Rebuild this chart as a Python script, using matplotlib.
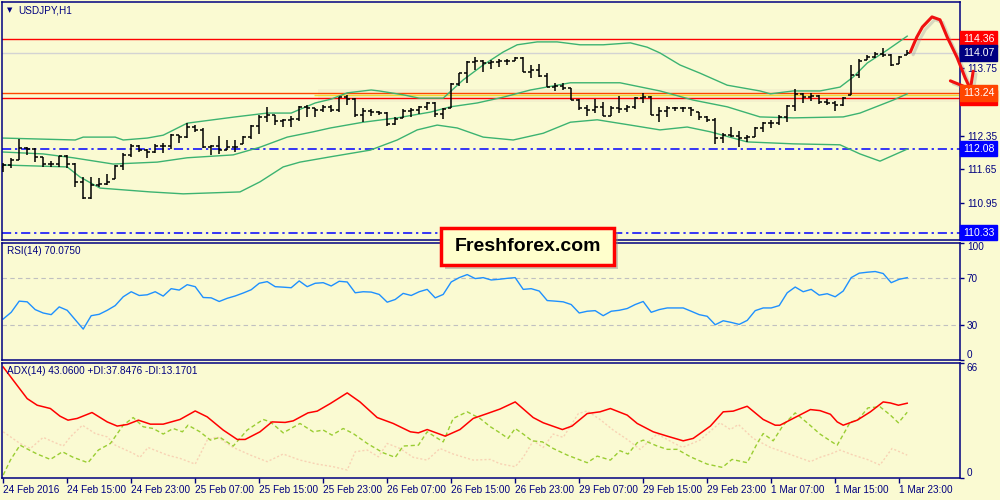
# -*- coding: utf-8 -*-
'''
USDJPY H1 - bars, Bollinger bands, RSI(14), ADX(14) in the MT4 look
'''
import numpy as np
import matplotlib
matplotlib.use('Agg')
import matplotlib.pyplot as plt
import matplotlib.patheffects as path_effects
from matplotlib.patches import Rectangle

plt.rcParams['font.family'] = ['Liberation Sans', 'DejaVu Sans']

# ---------------- data ----------------
opens = [111.70, 111.74, 111.84, 112.09, 112.07, 111.91, 111.76, 111.76, 111.93, 111.76,
         111.39, 111.05, 111.32, 111.35, 111.45, 111.72, 111.95, 112.14, 112.05, 112.01,
         112.14, 112.14, 112.36, 112.32, 112.53, 112.47, 112.11, 112.14, 112.05, 112.11,
         112.18, 112.32, 112.55, 112.74, 112.78, 112.66, 112.68, 112.70, 112.95, 112.93,
         112.88, 112.95, 112.88, 113.15, 113.11, 112.78, 112.86, 112.84, 112.82, 112.59,
         112.72, 112.86, 112.88, 112.95, 113.03, 112.80, 112.93, 113.42, 113.65, 113.88,
         113.90, 113.86, 113.88, 113.90, 113.90, 113.97, 113.67, 113.72, 113.59, 113.36,
         113.38, 113.34, 113.09, 112.93, 112.88, 112.95, 112.76, 112.93, 112.90, 112.95,
         113.13, 113.15, 112.78, 112.86, 112.93, 112.93, 112.93, 112.84, 112.74, 112.68,
         112.30, 112.36, 112.34, 112.30, 112.32, 112.51, 112.61, 112.61, 112.74, 112.97,
         113.22, 113.15, 113.17, 113.05, 113.03, 112.99, 113.20, 113.61, 113.92, 113.99,
         114.05, 114.03, 113.84, 114.03]
highs = [111.78, 111.89, 112.28, 112.11, 112.09, 111.91, 111.82, 111.93, 111.95, 111.78,
         111.49, 111.49, 111.47, 111.55, 111.74, 111.99, 112.18, 112.16, 112.07, 112.18,
         112.20, 112.39, 112.36, 112.61, 112.57, 112.51, 112.16, 112.34, 112.26, 112.26,
         112.34, 112.57, 112.78, 112.95, 112.78, 112.70, 112.76, 112.97, 112.99, 112.93,
         112.99, 112.99, 113.15, 113.20, 113.13, 112.93, 112.90, 112.86, 112.84, 112.74,
         112.90, 112.93, 112.97, 113.05, 113.05, 112.93, 113.45, 113.65, 113.90, 113.99,
         113.92, 113.92, 113.94, 113.94, 113.99, 113.99, 113.82, 113.84, 113.65, 113.45,
         113.45, 113.34, 113.11, 112.99, 113.11, 113.05, 112.97, 113.17, 112.99, 113.15,
         113.24, 113.17, 112.95, 112.97, 112.95, 112.95, 112.95, 112.84, 112.76, 112.72,
         112.41, 112.53, 112.45, 112.36, 112.53, 112.63, 112.68, 112.78, 112.99, 113.32,
         113.24, 113.24, 113.20, 113.11, 113.07, 113.15, 113.82, 113.94, 114.03, 114.09,
         114.17, 114.05, 114.01, 114.13]
lows = [111.59, 111.68, 111.84, 111.95, 111.80, 111.70, 111.70, 111.70, 111.68, 111.28,
        111.03, 111.03, 111.28, 111.33, 111.45, 111.64, 111.91, 112.01, 111.89, 111.99,
        111.99, 112.07, 112.20, 112.30, 112.43, 112.09, 111.95, 111.97, 112.05, 112.01,
        112.18, 112.28, 112.39, 112.63, 112.57, 112.53, 112.53, 112.66, 112.74, 112.74,
        112.84, 112.84, 112.84, 112.99, 112.74, 112.63, 112.76, 112.78, 112.55, 112.57,
        112.72, 112.74, 112.80, 112.88, 112.74, 112.70, 112.93, 113.38, 113.45, 113.72,
        113.67, 113.74, 113.78, 113.82, 113.90, 113.67, 113.55, 113.57, 113.36, 113.28,
        113.30, 113.09, 112.88, 112.76, 112.82, 112.76, 112.76, 112.82, 112.84, 112.90,
        113.03, 112.78, 112.63, 112.74, 112.86, 112.84, 112.76, 112.68, 112.63, 112.18,
        112.20, 112.32, 112.11, 112.22, 112.32, 112.43, 112.51, 112.57, 112.63, 112.86,
        113.03, 113.07, 113.01, 112.99, 112.86, 112.97, 113.20, 113.55, 113.92, 113.97,
        113.99, 113.80, 113.84, 114.03]
closes = [111.74, 111.84, 112.09, 112.07, 111.91, 111.76, 111.76, 111.93, 111.76, 111.39,
          111.05, 111.32, 111.35, 111.39, 111.72, 111.95, 112.14, 112.05, 112.01, 112.14,
          112.14, 112.36, 112.32, 112.53, 112.47, 112.11, 112.14, 112.05, 112.11, 112.11,
          112.32, 112.55, 112.74, 112.78, 112.66, 112.68, 112.70, 112.95, 112.93, 112.88,
          112.95, 112.88, 113.15, 113.11, 112.78, 112.86, 112.84, 112.82, 112.59, 112.70,
          112.86, 112.88, 112.95, 113.03, 112.80, 112.90, 113.42, 113.65, 113.88, 113.90,
          113.86, 113.88, 113.90, 113.90, 113.97, 113.67, 113.72, 113.59, 113.36, 113.38,
          113.34, 113.09, 112.93, 112.88, 112.95, 112.76, 112.93, 112.90, 112.95, 113.13,
          113.15, 112.78, 112.86, 112.93, 112.93, 112.93, 112.88, 112.74, 112.68, 112.30,
          112.36, 112.34, 112.30, 112.32, 112.51, 112.61, 112.61, 112.74, 112.97, 113.22,
          113.15, 113.17, 113.05, 113.03, 112.99, 113.13, 113.61, 113.90, 113.99, 114.05,
          114.03, 113.82, 113.99, 114.07]

# Bollinger bands (bar position, price)
bb_up_pos = [0, 9, 10, 14, 15, 18, 20, 23, 29, 33, 36, 39, 41, 43, 46, 47, 50, 52, 55, 57.5,
             60, 62.5, 64.25, 66.75, 69.25, 72.1, 75, 78.4, 80.5, 82.1, 84.6, 87.1, 90.5,
             94.6, 95.9, 98.75, 102.1, 104.6, 106.25, 108, 110.5, 113]
bb_up_val = [112.30, 112.26, 112.32, 112.32, 112.26, 112.30, 112.36, 112.61, 112.74, 112.82,
             112.82, 113.03, 113.11, 113.24, 113.30, 113.28, 113.20, 113.13, 113.13, 113.51,
             113.82, 114.09, 114.24, 114.30, 114.30, 114.24, 114.24, 114.28, 114.19, 114.07,
             113.82, 113.65, 113.40, 113.28, 113.22, 113.28, 113.28, 113.36, 113.57, 113.86,
             114.13, 114.42]
bb_mid_pos = [0, 5, 8.75, 13.75, 19.25, 23, 28.75, 32.1, 35.5, 38.75, 40.9, 45, 49.25, 53.4,
              55.9, 59.25, 62.5, 65.9, 69.25, 70.9, 77.1, 82.1, 86.25, 90.5, 94.6, 98.75,
              105, 107.1, 111.25, 113]
bb_mid_val = [112.01, 111.97, 111.89, 111.76, 111.80, 111.89, 111.95, 112.11, 112.32, 112.43,
              112.51, 112.63, 112.72, 112.84, 112.95, 113.03, 113.15, 113.30, 113.40, 113.45,
              113.45, 113.28, 113.09, 112.95, 112.74, 112.72, 112.74, 112.82, 113.09, 113.22]
bb_low_pos = [0, 8, 9.6, 12.1, 18.4, 22.5, 29.6, 32.1, 35, 37.1, 40.9, 45.9, 49.25, 51.75,
              54.25, 56.75, 60, 63.75, 67.5, 70.9, 74.25, 78.4, 82.1, 85.5, 88.4, 93, 98.75,
              104.6, 107.1, 109.6, 113]
bb_low_val = [111.74, 111.70, 111.49, 111.26, 111.18, 111.14, 111.18, 111.39, 111.70, 111.80,
              111.91, 112.05, 112.26, 112.47, 112.57, 112.51, 112.32, 112.26, 112.40, 112.63,
              112.68, 112.57, 112.47, 112.53, 112.43, 112.22, 112.18, 112.16, 111.97, 111.82,
              112.07]

# RSI(14), one value per bar
rsi = [34.9, 40.6, 50.1, 49.5, 42.9, 40.0, 38.6, 45.2, 42.3, 34.3,
       26.3, 37.7, 38.9, 42.3, 46.3, 53.8, 58.1, 54.9, 55.5, 58.1,
       54.4, 60.7, 59.5, 64.1, 62.4, 53.2, 52.9, 49.8, 52.5, 54.5,
       57.0, 59.8, 65.3, 66.7, 62.4, 62.0, 61.5, 67.3, 62.4, 65.3,
       65.8, 63.0, 67.0, 66.4, 57.2, 58.1, 57.8, 55.8, 49.2, 51.5,
       56.7, 54.9, 58.1, 60.1, 52.9, 55.8, 66.4, 70.1, 72.7, 69.3,
       70.1, 68.1, 68.7, 69.5, 70.1, 60.1, 60.7, 58.7, 50.6, 50.1,
       49.5, 47.2, 40.0, 41.5, 42.0, 37.7, 41.5, 42.3, 43.8, 47.2,
       49.8, 40.6, 42.9, 44.3, 44.3, 44.3, 41.5, 38.6, 37.2, 30.0,
       33.4, 32.0, 30.3, 33.7, 42.0, 44.3, 44.3, 46.3, 57.2, 62.1,
       58.1, 60.1, 55.2, 56.4, 53.8, 58.7, 70.1, 73.9, 74.7, 75.3,
       73.6, 65.8, 68.7, 70.075]

# ADX(14) and the two DI lines (bar position, value)
adx_pos = [0, 1.25, 3, 4.25, 5.9, 7.1, 8.1, 9.25, 11.1, 13, 14.25, 15.5, 16.9, 18.4, 20,
           22.1, 24, 25.5, 27.5, 29.25, 30.25, 32.1, 33.6, 35.25, 36.25, 38.1, 39.25, 40.9,
           43, 44.6, 46.75, 48.75, 50.9, 51.9, 53, 55.25, 57.1, 58.75, 60.5, 62.1, 64, 66.25,
           67.5, 69.9, 71.1, 73, 74.6, 75.9, 78, 79.25, 81.25, 83, 85, 86.25, 88.4, 90, 91.25,
           93, 95, 96.5, 97.1, 98.75, 100.9, 102.1, 103.4, 104.25, 105, 106.75, 108.4, 110,
           110.9, 111.9, 113]
adx_val = [63.9, 56.3, 45.7, 41.9, 40.0, 35.6, 33.3, 34.3, 37.7, 32.3, 29.9, 30.8, 33.3, 31.0,
           31.0, 33.7, 38.6, 35.2, 27.6, 22.2, 22.2, 26.6, 32.3, 32.0, 32.9, 37.5, 38.5, 42.9,
           49.0, 43.8, 34.8, 31.4, 26.6, 26.0, 27.9, 24.1, 27.9, 34.3, 37.1, 39.7, 43.8, 34.8,
           31.8, 27.9, 29.9, 37.1, 38.1, 40.0, 36.2, 31.4, 26.6, 24.1, 21.4, 22.8, 29.9, 38.1,
           38.5, 41.3, 33.7, 30.4, 30.4, 34.3, 39.4, 38.8, 36.7, 32.3, 30.4, 33.3, 38.1, 43.8,
           43.2, 41.9, 43.06]
pdi_pos = [0, 0.9, 2.1, 3.1, 4.25, 5.9, 7.4, 8.75, 10.6, 11.9, 13.4, 15, 16.25, 17.5, 18.75,
           20, 21.25, 22.4, 23.1, 24.6, 25.9, 27.1, 28.75, 30.5, 32.5, 33.4, 35, 37.1, 38.75,
           40, 41.1, 42.5, 43.75, 45.5, 47.5, 49, 50, 51.9, 53, 55, 56.25, 58, 59.6, 60.9,
           62.1, 63.1, 64, 65, 66.1, 67.4, 68.75, 70.5, 73, 74.25, 75.9, 77.1, 78.1, 79.25,
           80, 81.75, 83, 84.25, 85.9, 88, 89.9, 91.1, 93, 94.25, 95, 96.25, 97.5, 99, 100.6,
           102.1, 103.75, 104.25, 105.9, 106.75, 108.1, 109.6, 110.9, 111.9, 113]
pdi_val = [1.7, 10.3, 18.9, 16.5, 13.8, 10.7, 15.1, 11.9, 8.8, 16.1, 19.9, 30.4, 34.8, 29.5,
           28.5, 25.3, 28.5, 26.6, 30.4, 26.6, 21.8, 23.4, 18.4, 27.6, 33.7, 32.3, 26.0, 31.4,
           26.6, 27.6, 24.7, 28.5, 25.6, 19.9, 14.5, 11.9, 18.4, 18.9, 26.6, 20.8, 34.3, 38.1,
           34.3, 29.5, 26.0, 22.8, 28.5, 25.3, 21.4, 20.8, 17.0, 13.2, 8.8, 12.6, 10.3, 15.7,
           13.8, 20.3, 21.8, 18.4, 16.5, 16.5, 12.2, 8.0, 6.1, 10.7, 8.8, 19.9, 25.6, 21.4,
           30.4, 37.5, 31.4, 25.3, 20.3, 18.9, 32.3, 33.0, 40.4, 41.0, 36.2, 31.8, 37.85]
mdi_pos = [0, 2.1, 3.4, 5, 6.25, 7.5, 8.4, 9.9, 11.5, 13, 14, 16.25, 17.1, 18.1, 20.5, 22.1,
           24, 25.5, 26.75, 28.75, 30.9, 33, 35, 37.1, 39.25, 41.25, 43, 44, 45.5, 46.9, 48,
           49.6, 51.25, 53, 54.6, 56.25, 58.75, 60.9, 62.1, 64, 65, 66.25, 67.5, 68.75, 70,
           71.9, 73, 74.6, 76.25, 78, 79.6, 81.75, 83.75, 84.9, 87.1, 89.6, 90.9, 91.9, 93.75,
           95.9, 98, 100.9, 102.1, 103.4, 104.6, 106.25, 108, 109.6, 111.1, 113]
mdi_val = [26.6, 19.9, 17.0, 23.4, 20.8, 18.4, 23.7, 30.4, 25.6, 23.7, 18.9, 14.2, 11.9, 17.6,
           13.2, 11.3, 8.0, 21.8, 23.7, 17.6, 13.2, 9.4, 13.8, 10.3, 8.0, 6.5, 4.6, 15.1, 16.1,
           12.2, 19.9, 17.0, 11.9, 10.3, 17.0, 13.8, 10.3, 10.7, 8.2, 6.5, 11.9, 21.4, 17.6,
           25.3, 23.4, 37.1, 38.6, 33.7, 27.6, 22.2, 16.5, 25.3, 20.3, 17.6, 21.8, 31.8, 27.9,
           30.8, 22.8, 17.6, 14.2, 9.4, 11.9, 13.8, 16.1, 13.2, 10.7, 7.5, 17.0, 13.17]

# hand drawn forecast arrow (bar position, price)
fc_pos = [113.4, 114.2, 114.9, 116.1, 117.1, 118.0, 119.25, 120.25, 120.9]
fc_val = [114.09, 114.40, 114.61, 114.82, 114.76, 114.40, 113.97, 113.55, 113.32]
fc_head_pos = [118.4, 120.9, 121.25]
fc_head_val = [113.49, 113.32, 113.69]

time_pos = [0, 8, 16, 24, 32, 40, 48, 56, 64, 72, 80, 88, 96, 104, 112]
time_labels = ['24 Feb 2016', '24 Feb 15:00', '24 Feb 23:00', '25 Feb 07:00', '25 Feb 15:00',
               '25 Feb 23:00', '26 Feb 07:00', '26 Feb 15:00', '26 Feb 23:00', '29 Feb 07:00',
               '29 Feb 15:00', '29 Feb 23:00', '1 Mar 07:00', '1 Mar 15:00', '1 Mar 23:00']
price_ticks = [114.45, 113.75, 113.05, 112.35, 111.65, 110.95, 110.25]

# ---------------- style ----------------
BG = '#FAFAD2'
NAVY = '#000080'
FS = 7.2
XLIM = (-0.15, 119.6)

fig = plt.figure(figsize=(10, 5), dpi=100, facecolor=BG)


def pbox(x0, y0, x1, y1):
    # pixel box (top-left origin) -> figure fraction
    return [x0 / 1000, 1 - y1 / 500, (x1 - x0) / 1000, (y1 - y0) / 500]


def style_panel(ax):
    ax.set_facecolor(BG)
    for s in ax.spines.values():
        s.set_color(NAVY)
        s.set_linewidth(1.1)
    ax.set_xlim(*XLIM)
    ax.yaxis.tick_right()
    ax.tick_params(axis='y', length=3, width=1, color=NAVY, labelcolor=NAVY,
                   labelsize=FS, pad=2)
    ax.tick_params(axis='x', bottom=False, labelbottom=False)


ax_main = fig.add_axes(pbox(2, 2, 960, 240))
ax_rsi = fig.add_axes(pbox(2, 242.5, 960, 360))
ax_adx = fig.add_axes(pbox(2, 362.5, 960, 478))
for a in (ax_main, ax_rsi, ax_adx):
    style_panel(a)

# ---------------- main panel ----------------
idx = np.arange(len(closes))
ax_main.set_ylim(110.18, 115.13)
ax_main.set_yticks(price_ticks)
ax_main.set_yticklabels(['%.2f' % v for v in price_ticks])

# soft glow under the resistance lines
ax_main.axhspan(113.06, 113.32, xmin=0.33, xmax=1, color='#EFEBCB', alpha=0.6, lw=0, zorder=0)

ax_main.axhline(114.36, color='red', lw=1, zorder=1)
ax_main.axhline(114.07, color='#D3D3D3', lw=1, zorder=1)
ax_main.axhline(113.24, color='#FF4500', lw=1, zorder=1)
ax_main.hlines(113.19, 38.8, XLIM[1], color='#F2DC30', lw=1, zorder=1)
ax_main.axhline(113.14, color='red', lw=1, zorder=1)
dashdot = (0, (6, 2.5, 1.5, 2.5))
ax_main.axhline(112.08, color='#0000FF', lw=1.1, ls=dashdot, zorder=1)
ax_main.axhline(110.33, color='#0000FF', lw=1.1, ls=dashdot, zorder=1)

bb_col = '#3CB371'
ax_main.plot(bb_up_pos, bb_up_val, color=bb_col, lw=1, zorder=2)
ax_main.plot(bb_mid_pos, bb_mid_val, color=bb_col, lw=1, zorder=2)
ax_main.plot(bb_low_pos, bb_low_val, color=bb_col, lw=1, zorder=2)

# OHLC bars
ax_main.vlines(idx, lows, highs, color='black', lw=1.1, zorder=3)
ax_main.hlines(opens, idx - 0.38, idx, color='black', lw=1.1, zorder=3)
ax_main.hlines(closes, idx, idx + 0.38, color='black', lw=1.1, zorder=3)

# forecast arrow
shadow = [path_effects.SimpleLineShadow(offset=(2, -2), shadow_color='#999999', alpha=0.35),
          path_effects.Normal()]
ax_main.plot(fc_pos, fc_val, color='#F01010', lw=2.2, clip_on=False, zorder=8,
             solid_capstyle='round', solid_joinstyle='round', path_effects=shadow)
ax_main.plot(fc_head_pos, fc_head_val, color='#F01010', lw=2.2, clip_on=False, zorder=8,
             solid_capstyle='round', path_effects=shadow)


def price_tag(ax, y, txt, fc):
    ax.text(1.003, y, txt, transform=ax.get_yaxis_transform(), ha='left', va='center',
            fontsize=FS + 0.4, color='white', clip_on=False, zorder=10,
            bbox=dict(boxstyle='square,pad=0.25', fc=fc, ec=fc))


price_tag(ax_main, 114.36, '114.36', '#FF0000')
price_tag(ax_main, 114.07, '114.07', NAVY)
price_tag(ax_main, 113.14, '113.14', '#FF0000')
price_tag(ax_main, 113.24, '113.24', '#FF4500')
price_tag(ax_main, 112.08, '112.08', '#0000FF')
price_tag(ax_main, 110.33, '110.33', '#0000FF')

# ---------------- RSI ----------------
ax_rsi.set_ylim(0, 100)
ax_rsi.axhline(70, color='#C0C0C0', lw=0.8, ls=(0, (4, 3)))
ax_rsi.axhline(30, color='#C0C0C0', lw=0.8, ls=(0, (4, 3)))
ax_rsi.plot(idx, rsi, color='#1E90FF', lw=1)
ax_rsi.set_yticks([0, 30, 70, 100])
ax_rsi.set_yticklabels(['0', '30', '70', '100'])
ax_rsi.get_yticklabels()[0].set_va('bottom')
ax_rsi.get_yticklabels()[-1].set_va('top')

# ---------------- ADX ----------------
ax_adx.set_ylim(0, 66.5)
ax_adx.plot(mdi_pos, mdi_val, color='#F8D2B4', lw=1, ls=(0, (1.5, 1.5)))
ax_adx.plot(pdi_pos, pdi_val, color='#9ACD32', lw=1, ls=(0, (3, 2)))
ax_adx.plot(adx_pos, adx_val, color='#FF0000', lw=1.1)
ax_adx.set_yticks([0, 66])
ax_adx.set_yticklabels(['0', '66'])
ax_adx.get_yticklabels()[0].set_va('bottom')
ax_adx.get_yticklabels()[-1].set_va('top')

ax_adx.set_xticks(time_pos)
ax_adx.set_xticklabels(time_labels, ha='left')
ax_adx.tick_params(axis='x', bottom=True, labelbottom=True, length=3.5, width=1,
                   color=NAVY, labelcolor=NAVY, labelsize=FS, pad=1.5)

# ---------------- header texts ----------------
fig.text(0.0065, 0.979, '\u25bc', fontsize=5, color=NAVY, family='DejaVu Sans', va='center')
fig.text(0.018, 0.979, 'USDJPY,H1', fontsize=FS, color=NAVY, va='center')
fig.text(0.007, 0.498, 'RSI(14) 70.0750', fontsize=FS, color=NAVY, va='center')
fig.text(0.007, 0.258, 'ADX(14) 43.0600 +DI:37.8476 -DI:13.1701', fontsize=FS,
         color=NAVY, va='center')

# ---------------- watermark ----------------
fig.add_artist(Rectangle((0.445, 0.462), 0.173, 0.074, transform=fig.transFigure,
                         fc='#8C8C8C', ec='none', alpha=0.45, zorder=20))
fig.add_artist(Rectangle((0.441, 0.470), 0.173, 0.074, transform=fig.transFigure,
                         fc='#FFFFCC', ec='#FF0000', lw=2.5, zorder=21))
fig.text(0.5275, 0.507, 'Freshforex.com', fontsize=14, weight='bold', color='black',
         ha='center', va='center', zorder=22)

plt.savefig('out.png', dpi=100, facecolor=BG)
plt.close()
